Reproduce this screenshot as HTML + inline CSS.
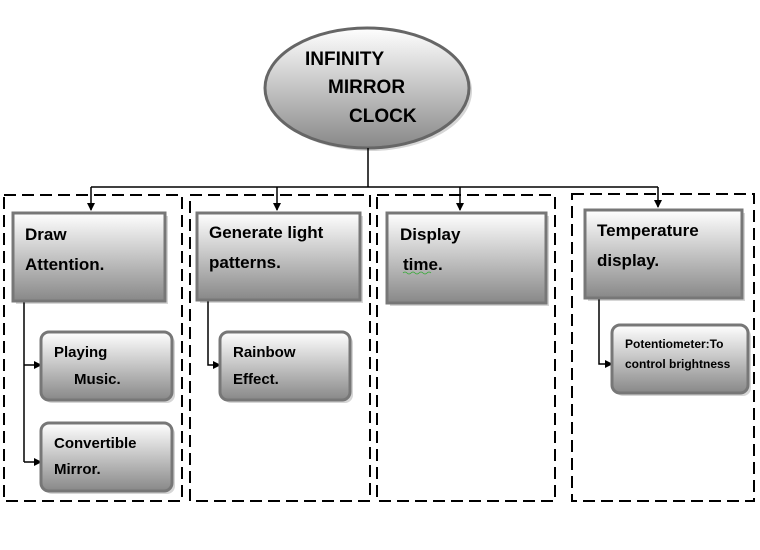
<!DOCTYPE html>
<html><head><style>body{margin:0;background:#fff}svg{display:block}text{font-family:"Liberation Sans",sans-serif;font-weight:bold;fill:#000}</style></head><body>
<svg width="760" height="550" viewBox="0 0 760 550">
<defs>
<linearGradient id="g" x1="0" y1="0" x2="0" y2="1"><stop offset="0" stop-color="#ffffff"/><stop offset="1" stop-color="#888888"/></linearGradient>
<marker id="a" markerWidth="8" markerHeight="8" refX="7" refY="4" orient="auto" markerUnits="userSpaceOnUse"><path d="M0,0 L8,4 L0,8z" fill="#000"/></marker>
</defs>
<g fill="none" stroke="#000" stroke-width="2" stroke-dasharray="12,6">
<rect x="4" y="195" width="178" height="306"/>
<rect x="190" y="195" width="180" height="306"/>
<rect x="377" y="195" width="178" height="306"/>
<rect x="572" y="194" width="182" height="307"/>
</g>
<g fill="#bbb" opacity="0.6">
<ellipse cx="370" cy="91" rx="102" ry="60"/>
<rect x="16" y="216" width="152" height="88"/>
<rect x="200" y="216" width="163" height="87"/>
<rect x="390" y="216" width="159" height="90"/>
<rect x="588" y="213" width="157" height="88"/>
<rect x="44" y="335" width="131" height="68" rx="8"/>
<rect x="44" y="426" width="131" height="68" rx="8"/>
<rect x="223" y="335" width="130" height="68" rx="8"/>
<rect x="615" y="328" width="136" height="68" rx="8"/>
</g>
<ellipse cx="367" cy="88" rx="102" ry="60" fill="url(#g)" stroke="#666" stroke-width="3"/>
<text x="305" y="65" font-size="19">INFINITY</text>
<text x="328" y="93" font-size="19">MIRROR</text>
<text x="349" y="122" font-size="19">CLOCK</text>
<g stroke="#000" stroke-width="1.5" fill="none">
<path d="M368,148 V187 M91,187 H658"/>
<path d="M91,187 V210" marker-end="url(#a)"/>
<path d="M277,187 V210" marker-end="url(#a)"/>
<path d="M460,187 V210" marker-end="url(#a)"/>
<path d="M658,187 V207" marker-end="url(#a)"/>
<path d="M24,302 V462"/>
<path d="M24,365 H41" marker-end="url(#a)"/>
<path d="M24,462 H41" marker-end="url(#a)"/>
<path d="M208,301 V365 H220" marker-end="url(#a)"/>
<path d="M599,299 V364 H612" marker-end="url(#a)"/>
</g>
<g fill="url(#g)" stroke="#777" stroke-width="3">
<rect x="13" y="213" width="152" height="88"/>
<rect x="197" y="213" width="163" height="87"/>
<rect x="387" y="213" width="159" height="90"/>
<rect x="585" y="210" width="157" height="88"/>
<rect x="41" y="332" width="131" height="68" rx="8"/>
<rect x="41" y="423" width="131" height="68" rx="8"/>
<rect x="220" y="332" width="130" height="68" rx="8"/>
<rect x="612" y="325" width="136" height="68" rx="8"/>
</g>
<g font-size="17">
<text x="25" y="240">Draw</text>
<text x="25" y="270">Attention.</text>
<text x="209" y="238">Generate light</text>
<text x="209" y="268">patterns.</text>
<text x="400" y="240">Display</text>
<text x="403" y="270">time.</text>
<text x="597" y="236">Temperature</text>
<text x="597" y="266">display.</text>
</g>
<path d="M403,273 q2,-2 4,0 t4,0 t4,0 t4,0 t4,0 t4,0 t4,0" stroke="#3a3" fill="none" stroke-width="0.8"/>
<g font-size="15">
<text x="54" y="357">Playing</text>
<text x="74" y="384">Music.</text>
<text x="54" y="448">Convertible</text>
<text x="54" y="474">Mirror.</text>
<text x="233" y="357">Rainbow</text>
<text x="233" y="384">Effect.</text>
</g>
<g font-size="12">
<text x="625" y="348">Potentiometer:To</text>
<text x="625" y="368">control brightness</text>
</g>
</svg>
</body></html>
